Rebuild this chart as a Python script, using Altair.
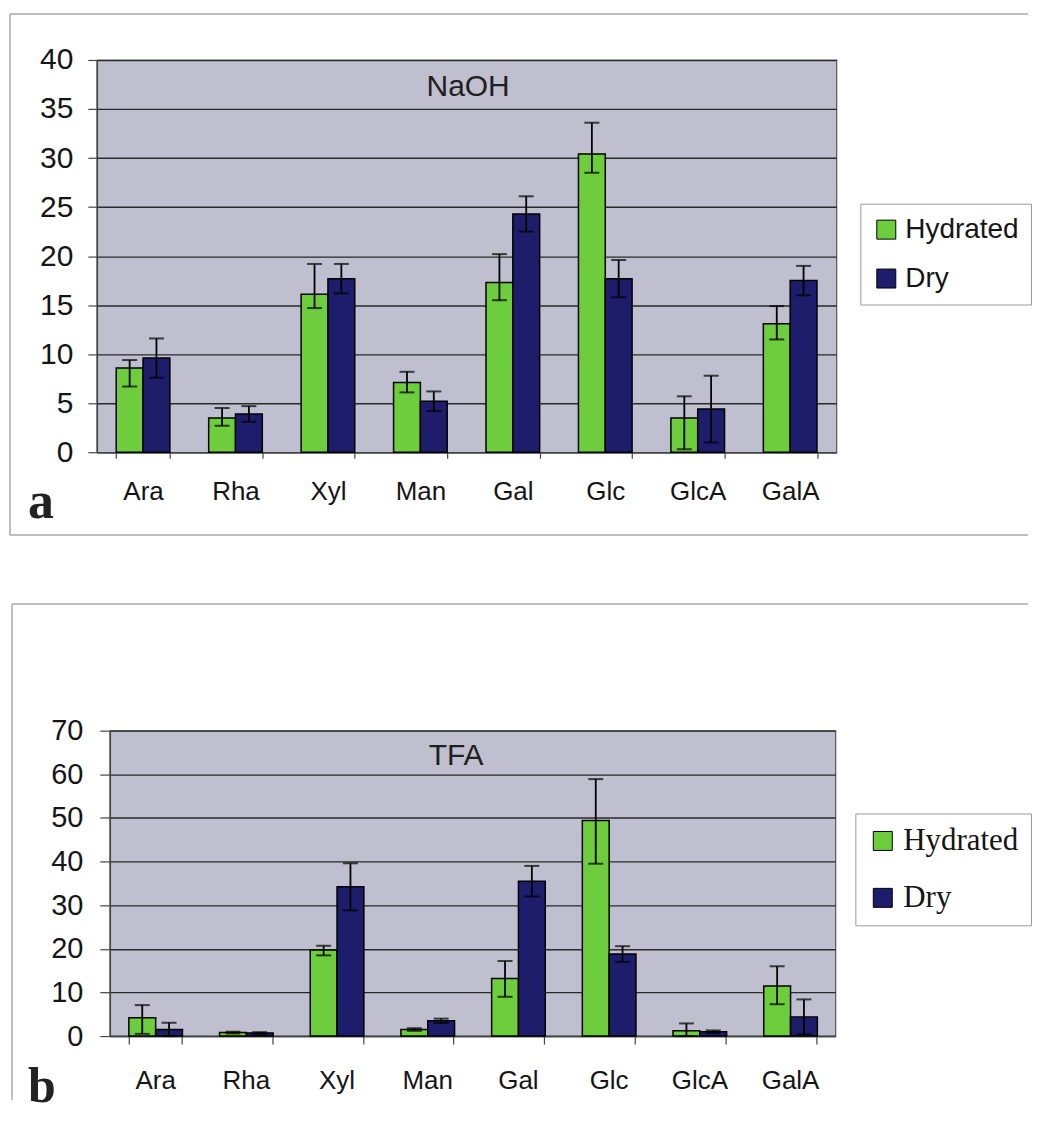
import altair as alt
import pandas as pd

sugars = ["Ara", "Rha", "Xyl", "Man", "Gal", "Glc", "GlcA", "GalA"]
series = ["Hydrated", "Dry"]

# Panel a: NaOH
naoh_hyd = [8.6, 3.5, 16.1, 7.1, 17.3, 30.4, 3.5, 13.1]
naoh_hyd_lo = [6.7, 2.7, 14.7, 6.1, 15.5, 28.5, 0.3, 11.5]
naoh_hyd_hi = [9.4, 4.5, 19.2, 8.2, 20.2, 33.6, 5.7, 14.9]
naoh_dry = [9.6, 3.9, 17.7, 5.2, 24.3, 17.7, 4.4, 17.5]
naoh_dry_lo = [7.6, 3.1, 16.2, 4.2, 22.5, 15.8, 1.0, 16.0]
naoh_dry_hi = [11.6, 4.7, 19.2, 6.2, 26.1, 19.6, 7.8, 19.0]

# Panel b: TFA
tfa_hyd = [4.2, 0.8, 19.7, 1.5, 13.2, 49.4, 1.2, 11.5]
tfa_hyd_lo = [0.5, 0.6, 18.5, 1.2, 9.0, 39.5, 0.0, 7.3]
tfa_hyd_hi = [7.1, 1.0, 20.7, 1.8, 17.2, 58.9, 2.9, 16.0]
tfa_dry = [1.5, 0.7, 34.2, 3.5, 35.5, 18.8, 1.0, 4.4]
tfa_dry_lo = [0.0, 0.5, 28.8, 3.0, 32.0, 17.0, 0.7, 0.4]
tfa_dry_hi = [3.05, 0.9, 39.6, 4.0, 39.0, 20.6, 1.3, 8.4]

GREEN = "#6DCD3D"
NAVY = "#1D1D6C"
PLOT_BG = "#BFBFCF"
FRAME = "#A8A8A8"

one = pd.DataFrame({"k": [0]})


def build_df(hyd, hlo, hhi, dry, dlo, dhi):
    rows = []
    for i, s in enumerate(sugars):
        rows.append(dict(sugar=s, series="Hydrated", value=hyd[i], lo=hlo[i], hi=hhi[i]))
        rows.append(dict(sugar=s, series="Dry", value=dry[i], lo=dlo[i], hi=dhi[i]))
    return pd.DataFrame(rows)


def panel(df, p):
    xenc = alt.X(
        "sugar:N", sort=sugars, title=None,
        scale=alt.Scale(paddingInner=0.42, paddingOuter=0.21),
        axis=alt.Axis(labelAngle=0, labelFont="Liberation Sans", labelFontSize=p["cat_font"],
                      labelColor="#151515", labelPadding=p["cat_pad"], tickBand="extent",
                      tickSize=p["xtick"], tickColor="#444", tickWidth=1.2,
                      domainColor="#444", domainWidth=1.5, grid=False),
    )
    xoff = alt.XOffset("series:N", sort=series,
                       scale=alt.Scale(domain=series, paddingInner=0, paddingOuter=0))
    yscale = alt.Scale(domain=[0, p["ymax"]], nice=False)
    yenc = alt.Y(
        "value:Q", title=None, scale=yscale,
        axis=alt.Axis(values=list(range(0, p["ymax"] + 1, p["ystep"])), labelFont="Liberation Sans",
                      labelFontSize=p["tick_font"], labelColor="#151515", labelPadding=p["ypad"],
                      tickSize=p["ytick"], tickColor="#444", tickWidth=1.2,
                      domainColor="#444", domainWidth=1.5,
                      grid=True, gridColor="#2A2A2A", gridWidth=1.4),
    )
    color = alt.Color(
        "series:N", sort=series,
        scale=alt.Scale(domain=series, range=[GREEN, NAVY]),
        legend=alt.Legend(orient="none", legendX=p["lx"], legendY=p["ly"], title=None,
                          labelFont=p["lfont"], labelFontSize=p["lsize"], labelColor="#151515",
                          labelOffset=5, symbolType="square", symbolSize=361,
                          symbolStrokeColor="black", symbolStrokeWidth=1,
                          rowPadding=p["lrow"], padding=12,
                          strokeColor="#9A9A9A", fillColor="white"),
    )
    base = alt.Chart(df)
    bars = base.mark_bar(stroke="black", strokeWidth=1.5).encode(
        x=xenc, xOffset=xoff, y=yenc, color=color
    )
    err = base.mark_rule(color="black", strokeWidth=1.8).encode(
        x=xenc, xOffset=xoff, y=alt.Y("lo:Q", scale=yscale), y2="hi:Q"
    )
    cap_lo = base.mark_tick(color="black", thickness=2, size=15).encode(
        x=xenc, xOffset=xoff, y=alt.Y("lo:Q", scale=yscale)
    )
    cap_hi = base.mark_tick(color="black", thickness=2, size=15).encode(
        x=xenc, xOffset=xoff, y=alt.Y("hi:Q", scale=yscale)
    )
    title = alt.Chart(one).mark_text(
        text=p["title"], font="Liberation Sans", fontSize=30, color="#202020",
        align="center", baseline="middle"
    ).encode(x=alt.value(p["tx"]), y=alt.value(p["ty"]))
    letter = alt.Chart(one).mark_text(
        text=p["letter"], font="Liberation Serif", fontWeight="bold", fontSize=p["letter_size"],
        color="#222", align="left", baseline="alphabetic"
    ).encode(x=alt.value(p["ax"]), y=alt.value(p["ay"]))
    frames = []
    for (x1, x2, y1, y2) in p["frame"]:
        if y2 is None:
            enc = dict(x=alt.value(x1), x2=alt.value(x2), y=alt.value(y1))
        else:
            enc = dict(x=alt.value(x1), y=alt.value(y1), y2=alt.value(y2))
        frames.append(alt.Chart(one).mark_rule(color=FRAME, strokeWidth=1.5).encode(**enc))
    return alt.layer(*frames, bars, err, cap_lo, cap_hi, title, letter).properties(
        width=p["w"], height=p["h"],
        view=alt.ViewBackground(fill=PLOT_BG, stroke="#555555", strokeWidth=1.2),
    )


top = panel(
    build_df(naoh_hyd, naoh_hyd_lo, naoh_hyd_hi, naoh_dry, naoh_dry_lo, naoh_dry_hi),
    dict(ymax=40, ystep=5, w=741, h=393, tick_font=30, cat_font=26, cat_pad=20, xtick=6,
         ytick=9, ypad=15, lx=765, ly=144, lfont="Liberation Sans", lsize=28, lrow=21,
         title="NaOH", tx=372, ty=27, letter="a", letter_size=52, ax=-69, ay=459,
         frame=[(-87, 933, -46, None), (-87, None, -46, 476), (-87, 933, 476, None)]),
)

bottom = panel(
    build_df(tfa_hyd, tfa_hyd_lo, tfa_hyd_hi, tfa_dry, tfa_dry_lo, tfa_dry_hi),
    dict(ymax=70, ystep=10, w=727, h=306, tick_font=29, cat_font=26, cat_pad=24, xtick=8,
         ytick=10, ypad=17, lx=760, ly=83, lfont="Liberation Serif", lsize=31, lrow=25,
         title="TFA", tx=347, ty=25, letter="b", letter_size=50, ax=-82, ay=372,
         frame=[(-98, 920, -127, None), (-98, None, -127, 370)]),
)

spacer = alt.Chart(one).mark_text(text=" ").encode(
    x=alt.value(0), y=alt.value(0)
).properties(width=13, height=306,
             view=alt.ViewBackground(fill="transparent", stroke="transparent"))

bottom_row = alt.hconcat(spacer, bottom, spacing=0, bounds="flush")

chart = alt.vconcat(top, bottom_row, spacing=279, bounds="flush").resolve_scale(
    color="independent"
).resolve_legend(color="independent").properties(
    padding={"left": 0, "top": 3, "right": 0, "bottom": 0}
).configure(background="white")

chart.save("out.html", embed_options={"renderer": "svg", "actions": False})
